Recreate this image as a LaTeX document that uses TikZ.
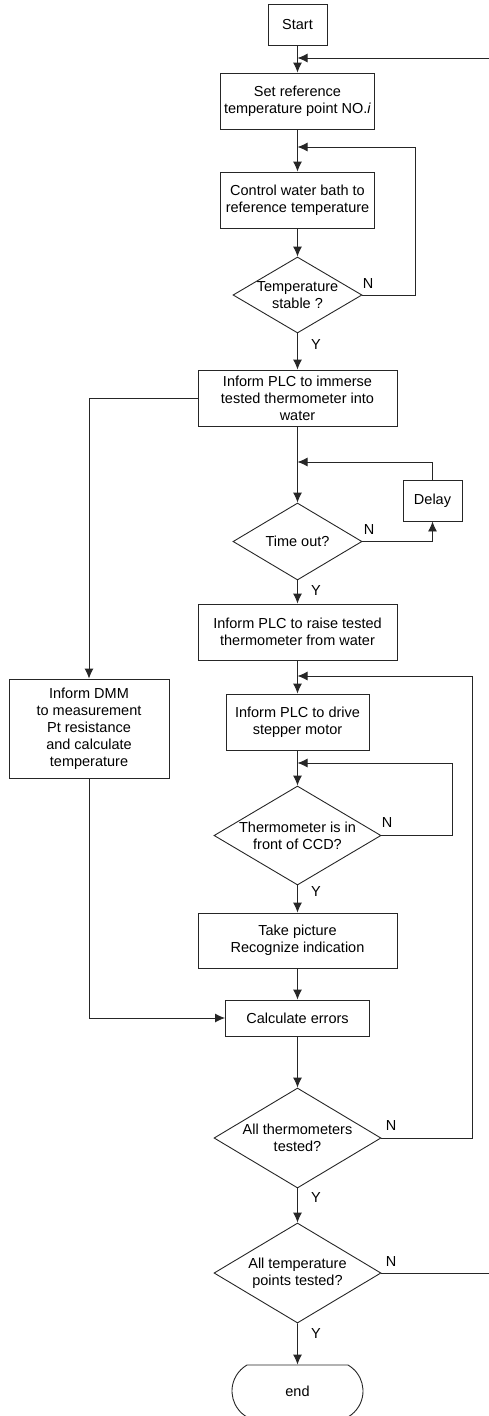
\documentclass[tikz,border=0pt]{standalone}
\usepackage{fontspec}
\setmainfont{Liberation Sans}
\colorlet{FlowLine}{black!85}
\usetikzlibrary{arrows.meta, shapes.geometric, shapes.misc}

\tikzset{
  every node/.style={font=\fontsize{14.5}{17}\selectfont},
  process/.style={draw=FlowLine, line width=0.9pt, rectangle, align=center, inner sep=0pt},
  decision/.style={draw=FlowLine, line width=0.9pt, diamond, aspect=1, inner sep=0pt},
  terminal/.style={draw=FlowLine, line width=0.9pt, rounded rectangle,
                   rounded rectangle arc length=120, inner sep=0pt},
  flow/.style={draw=FlowLine, line width=0.9pt, -{Latex[length=10pt,width=9pt]}},
  answer/.style={inner sep=0pt}
}
\newcommand{\decisiontext}[1]{\makebox[0pt]{\parbox{170pt}{\centering #1}}}

\begin{document}
\begin{tikzpicture}[x=1pt, y=-1pt]

\useasboundingbox (0,0) rectangle (488,1416);

%% Columna principal
\node[process, minimum width=59pt, minimum height=41pt] (start) at (297.5,24.5) {Start};
\node[process, minimum width=154pt, minimum height=56pt] (setref) at (297.5,101)
      {Set reference\\temperature point NO.\textit{i}};
\node[process, minimum width=154pt, minimum height=56pt] (control) at (297.5,200)
      {Control water bath to\\reference temperature};
\node[decision, minimum width=129pt, minimum height=76pt] (tstable) at (297.5,295)
      {\decisiontext{Temperature\\stable ?}};
\node[process, minimum width=199pt, minimum height=56pt] (immerse) at (297.5,398)
      {Inform PLC to immerse\\tested thermometer into\\water};
\node[decision, minimum width=129pt, minimum height=77pt] (timeout) at (297.5,541.5)
      {\decisiontext{Time out?}};
\node[process, minimum width=59pt, minimum height=41pt] (delay) at (432.5,500.5) {Delay};
\node[process, minimum width=199pt, minimum height=56pt] (raise) at (297.5,632)
      {Inform PLC to raise tested\\thermometer from water};
\node[process, minimum width=143pt, minimum height=56pt] (stepper) at (297.5,722)
      {Inform PLC to drive\\stepper motor};
\node[decision, minimum width=167pt, minimum height=99pt] (ccd) at (297.5,835.5)
      {\decisiontext{Thermometer is in\\front of CCD?}};
\node[process, minimum width=199pt, minimum height=55pt] (picture) at (297.5,940.5)
      {Take picture\\Recognize indication};
\node[process, minimum width=144pt, minimum height=36pt] (calc) at (297.5,1018)
      {Calculate errors};
\node[decision, minimum width=167pt, minimum height=100pt] (allthermo) at (297.5,1138)
      {\decisiontext{All thermometers\\tested?}};
\node[decision, minimum width=167pt, minimum height=100pt] (allpoints) at (297.5,1273)
      {\decisiontext{All temperature\\points tested?}};
\node[terminal, minimum width=131pt, minimum height=52pt] (end) at (297.5,1391) {end};

%% Columna izquierda
\node[process, minimum width=160pt, minimum height=99pt] (dmm) at (89,728.5)
      {Inform DMM\\to measurement\\Pt resistance\\and calculate\\temperature};

%% Respuestas
\node[answer] (nStable) at (368,284) {N};
\node[answer] (yStable) at (316,345) {Y};
\node[answer] (nTime) at (369,530) {N};
\node[answer] (yTime) at (316,591) {Y};
\node[answer] (nCCD) at (387,823) {N};
\node[answer] (yCCD) at (316,892) {Y};
\node[answer] (nThermo) at (391,1125) {N};
\node[answer] (yThermo) at (316,1197) {Y};
\node[answer] (nPoints) at (391,1261) {N};
\node[answer] (yPoints) at (316,1333) {Y};

% Flujo principal
\draw[flow] (start) -- (setref);
\draw[flow] (setref) -- (control);
\draw[flow] (control) -- (tstable);
\draw[flow] (tstable) -- (immerse);
\draw[flow] (immerse) -- (timeout);
\draw[flow] (timeout) -- (raise);
\draw[flow] (raise) -- (stepper);
\draw[flow] (stepper) -- (ccd);
\draw[flow] (ccd) -- (picture);
\draw[flow] (picture) -- (calc);
\draw[flow] (calc) -- (allthermo);
\draw[flow] (allthermo) -- (allpoints);
\draw[flow] (allpoints) -- (end);

% Lazos de retorno
\coordinate (backTop) at (500,58);
\draw[flow] (allpoints.east) -| (backTop) -- (backTop -| setref);

\coordinate (backStable) at (415,147);
\draw[flow] (tstable.east) -| (backStable) -- (backStable -| control);

\coordinate (joinDelay) at (297.5,462);
\draw[flow] (timeout.east) -| (delay.south);
\draw[flow] (delay.north) |- (joinDelay);

\coordinate (backThermo) at (472,676);
\draw[flow] (allthermo.east) -| (backThermo) -- (backThermo -| stepper);

\coordinate (backCCD) at (452,763);
\draw[flow] (ccd.east) -| (backCCD) -- (backCCD -| stepper);

% Rama del DMM
\draw[flow] (immerse.west) -| (dmm.north);
\draw[flow] (dmm.south) |- (calc.west);

\end{tikzpicture}
\end{document}
